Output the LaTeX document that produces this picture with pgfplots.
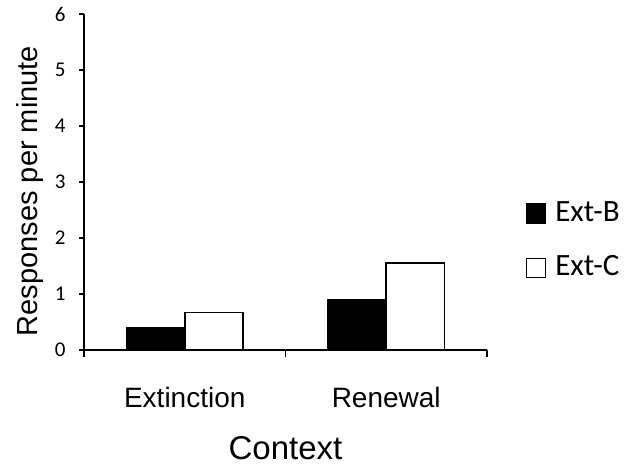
\documentclass[border=0pt]{standalone}
\usepackage{fontspec}
\setmainfont{Liberation Sans}
\setsansfont{Carlito}
\usepackage{pgfplots}
\pgfplotsset{compat=1.18}

\begin{document}
\begin{tikzpicture}
\begin{axis}[
  scale only axis,
  width=403pt, height=336pt,
  xmin=-0.5, xmax=1.5,
  ymin=0, ymax=6,
  axis lines=left,
  axis line style={line width=1.4pt, -},
  ytick={0,1,2,3,4,5,6},
  yticklabels={0,1,2,3,4,5,6},
  xtick={0,1},
  xticklabels={Extinction,Renewal},
  minor xtick={-0.5,0.5,1.5},
  tick align=outside,
  xtick pos=left, ytick pos=left,
  major x tick style={draw=none},
  minor tick length=7pt,
  major tick length=5pt,
  tick style={line width=1.4pt, black},
  every y tick label/.append style={font=\sffamily\fontsize{21}{25}\selectfont, anchor=east, xshift=-10pt},
  xticklabel style={font=\fontsize{28}{33}\selectfont, anchor=center, yshift=-42pt},
  xlabel={Context},
  ylabel={Responses per minute},
  xlabel style={font=\fontsize{33}{38}\selectfont, at={(axis description cs:0.5,-0.2917)}, anchor=center},
  ylabel style={font=\fontsize{29}{34}\selectfont, at={(axis description cs:-0.134,0.473)}, anchor=center},
  ybar, bar width=0.29,
  legend image code/.code={\draw[#1, line width=1.6pt] (0pt,-11pt) rectangle (19pt,8pt);},
  legend style={draw=none, fill=none, at={(axis description cs:1.088,0.455)}, anchor=north west,
    font=\sffamily\fontsize{31}{36}\selectfont, row sep=29pt,
    nodes={inner xsep=9pt}},
  legend cell align=left,
]
  \addplot[bar shift=-0.145, fill=black, draw=black, line width=1.6pt]
    coordinates {(0,0.39) (1,0.89)};
  \addlegendentry{\sffamily\fontsize{31}{36}\selectfont Ext-B}
  \addplot[bar shift=0.145, fill=white, draw=black, line width=1.6pt]
    coordinates {(0,0.67) (1,1.55)};
  \addlegendentry{\sffamily\fontsize{31}{36}\selectfont Ext-C}
  \coordinate (ll) at (rel axis cs:0,0);
\end{axis}
\pgfresetboundingbox
\path (ll) ++(-84pt,-117pt) rectangle ++(629pt,467pt);
\end{tikzpicture}
\end{document}
